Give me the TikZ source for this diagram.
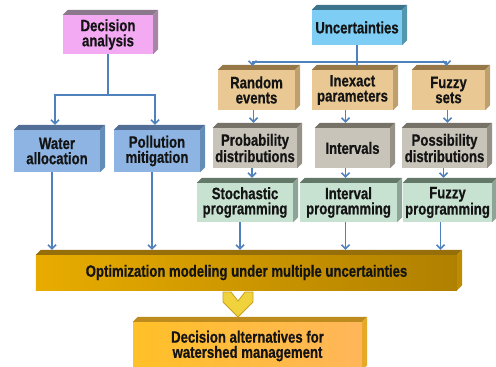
\documentclass[tikz,border=0pt]{standalone}
\usepackage{fontspec}
\setmainfont{Liberation Sans}[FakeStretch=0.8, BoldFeatures={FakeBold=0.6}]
\usetikzlibrary{arrows.meta}
\definecolor{cblue}{RGB}{79,129,189}
\definecolor{cpink}{RGB}{243,170,243}
\definecolor{cpinkT}{RGB}{140,120,140}
\definecolor{cpinkR}{RGB}{165,135,165}
\definecolor{cunc}{RGB}{125,205,245}
\definecolor{cuncT}{RGB}{60,115,140}
\definecolor{cuncR}{RGB}{85,150,175}
\definecolor{cwat}{RGB}{141,180,226}
\definecolor{cwatT}{RGB}{80,110,150}
\definecolor{cwatR}{RGB}{100,140,185}
\definecolor{ctan}{RGB}{233,200,148}
\definecolor{ctanT}{RGB}{150,120,72}
\definecolor{ctanR}{RGB}{190,160,110}
\definecolor{cgray}{RGB}{200,196,186}
\definecolor{cgrayT}{RGB}{118,114,104}
\definecolor{cgrayR}{RGB}{150,145,135}
\definecolor{cgreen}{RGB}{200,226,210}
\definecolor{cgreenT}{RGB}{100,120,105}
\definecolor{cgreenR}{RGB}{140,165,150}
\definecolor{coptL}{RGB}{232,172,0}
\definecolor{coptR}{RGB}{176,128,0}
\definecolor{coptT}{RGB}{150,110,10}
\definecolor{coptS}{RGB}{190,140,0}
\definecolor{caltL}{RGB}{255,192,40}
\definecolor{caltR}{RGB}{255,182,90}
\definecolor{caltT}{RGB}{190,140,30}
\definecolor{caltS}{RGB}{230,170,40}
\definecolor{cchevF}{RGB}{240,210,60}
\definecolor{cchevD}{RGB}{200,160,30}
\tikzset{
  box/.style={draw=none, inner sep=0pt, align=center,
    font=\bfseries\fontsize{16.5}{15.2}\selectfont, text=black!92},
  arr/.style={draw=cblue, line width=1.5bp, -{Straight Barb[length=4bp,width=8bp]}},
  conn/.style={draw=cblue, line width=1.5bp},
}
\newcommand\boxfaces[3]{%
  \fill[#2] (#1.north west) -- ++(5,5) -- ([shift={(5,5)}]#1.north east) -- (#1.north east) -- cycle;
  \fill[#3] (#1.north east) -- ++(5,5) -- ([shift={(5,5)}]#1.south east) -- (#1.south east) -- cycle;}
\newcommand\vlink[3]{\draw[arr] ([xshift=#3]#1.south) coordinate (tmp) -- ([yshift=5]tmp |- #2.north);}
\begin{document}
\begin{tikzpicture}[x=1bp,y=1bp]
\useasboundingbox (0,0) rectangle (496,366);
% top-level boxes
\node[box, fill=cpink, minimum width=90bp, minimum height=39bp] (dec) at (108,331.5) {Decision\\analysis};
\boxfaces{dec}{cpinkT}{cpinkR}
\node[box, fill=cunc, minimum width=90bp, minimum height=35bp] (unc) at (357,338.5) {Uncertainties};
\boxfaces{unc}{cuncT}{cuncR}
% decision branch
\node[box, fill=cwat, minimum width=86bp, minimum height=42bp] (wat) at (57,215) {Water\\allocation};
\boxfaces{wat}{cwatT}{cwatR}
\node[box, fill=cwat, minimum width=86bp, minimum height=42bp] (pol) at (157,215) {Pollution\\mitigation};
\boxfaces{pol}{cwatT}{cwatR}
% uncertainty sources
\node[box, fill=ctan, minimum width=77bp, minimum height=40bp] (ran) at (256.5,276) {Random\\events};
\boxfaces{ran}{ctanT}{ctanR}
\node[box, fill=ctan, minimum width=81bp, minimum height=40bp] (ine) at (352.5,276) {Inexact\\parameters};
\boxfaces{ine}{ctanT}{ctanR}
\node[box, fill=ctan, minimum width=73bp, minimum height=40bp] (fuz) at (448.5,276) {Fuzzy\\sets};
\boxfaces{fuz}{ctanT}{ctanR}
% representations
\node[box, fill=cgray, minimum width=84bp, minimum height=40bp] (pro) at (255,218) {Probability\\distributions};
\boxfaces{pro}{cgrayT}{cgrayR}
\node[box, fill=cgray, minimum width=75bp, minimum height=40bp] (int) at (352.5,218) {Intervals};
\boxfaces{int}{cgrayT}{cgrayR}
\node[box, fill=cgray, minimum width=85bp, minimum height=40bp] (pos) at (444.5,218) {Possibility\\distributions};
\boxfaces{pos}{cgrayT}{cgrayR}
% programming methods
\node[box, fill=cgreen, minimum width=96bp, minimum height=39bp] (sto) at (245,163.5) {Stochastic\\programming};
\boxfaces{sto}{cgreenT}{cgreenR}
\node[box, fill=cgreen, minimum width=97bp, minimum height=39bp] (ipr) at (348.5,163.5) {Interval\\programming};
\boxfaces{ipr}{cgreenT}{cgreenR}
\node[box, fill=cgreen, minimum width=89bp, minimum height=39bp] (fpr) at (447.5,163.5) {Fuzzy\\programming};
\boxfaces{fpr}{cgreenT}{cgreenR}
% optimization bar
\node[box, left color=coptL, right color=coptR, minimum width=421bp, minimum height=35bp] (opt) at (246.5,93.5) {Optimization modeling under multiple uncertainties};
\boxfaces{opt}{coptT}{coptS}
% decision alternatives
\node[box, left color=caltL, right color=caltR, minimum width=229bp, minimum height=48bp] (alt) at (247.5,20) {Decision alternatives for\\watershed management};
\boxfaces{alt}{caltT}{caltS}
% chevron
\filldraw[fill=cchevF, draw=cchevD, line width=0.8bp]
  (223,74) -- (231,74) -- (238,65) -- (245,74) -- (253,74) -- (253,64) -- (238,49) -- (223,64) -- cycle;
% connectors: decision analysis
\draw[conn] (dec.south) -- ++(0,-41) coordinate (dj);
\draw[arr] (dj) -| ([xshift=-2,yshift=5]wat.north);
\draw[arr] (dj) -| ([xshift=-2,yshift=5]pol.north);
% connectors: uncertainties
\draw[conn] (unc.south) -- ++(0,-17) coordinate (uj);
\draw[arr] (uj) -| ([xshift=-4,yshift=4]ran.north);
\draw[arr] (uj) -| ([xshift=-2,yshift=4]fuz.north);
\draw[conn] (uj) -- ([yshift=4]uj |- ine.north);
% vertical chains
\vlink{ran}{pro}{-3}
\vlink{ine}{int}{-7}
\vlink{fuz}{pos}{-1}
\vlink{pro}{sto}{-3}
\vlink{int}{ipr}{-7}
\vlink{pos}{fpr}{-1}
\vlink{wat}{opt}{-5}
\vlink{pol}{opt}{-5}
\vlink{sto}{opt}{-5}
\vlink{ipr}{opt}{-3}
\vlink{fpr}{opt}{-7}
\end{tikzpicture}
\end{document}
